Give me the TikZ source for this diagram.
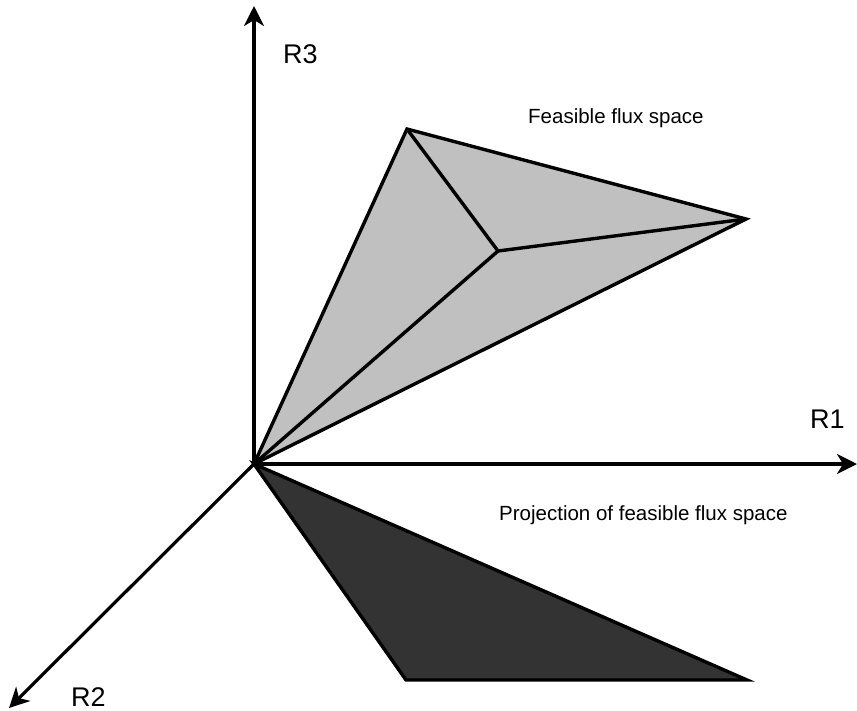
\documentclass[tikz,border=0pt]{standalone}
\usepackage{fontspec}
\setmainfont{Liberation Sans}
\usetikzlibrary{arrows.meta}
\definecolor{lightface}{HTML}{C0C0C0}
\definecolor{darkface}{HTML}{333333}
\begin{document}
\begin{tikzpicture}[x=1pt,y=-1pt,
  axis/.style={line width=3.2pt,-{Stealth[length=20pt,width=20pt,inset=6pt]}},
  edge/.style={line width=3.4pt,line join=miter},
  axislabel/.style={font=\fontsize{27}{30}\selectfont,inner sep=0pt,anchor=base west},
  smalllabel/.style={font=\fontsize{20.5}{24}\selectfont,inner sep=0pt,anchor=base west}]
\useasboundingbox (0,0) rectangle (857,710);
\coordinate (O) at (254,464);
\coordinate (top) at (407,129);
\coordinate (right) at (746,219);
\coordinate (mid) at (498,251);
\coordinate (pl) at (406,680);
\coordinate (pr) at (747,680);
\coordinate (x3) at (254,6);
\coordinate (x1) at (857,464);
\coordinate (x2) at (9,708);
\filldraw[edge,fill=lightface] (O) -- (top) -- (right) -- cycle;
\draw[edge] (top) -- (mid) -- (right);
\draw[edge] (O) -- (mid);
\filldraw[edge,fill=darkface] (O) -- (pr) -- (pl) -- cycle;
\draw[axis] (O) -- (x3);
\draw[axis] (O) -- (x1);
\draw[axis] (O) -- (x2);
\node[axislabel] (l3) at (283,63) {R3};
\node[axislabel] (l1) at (810,428) {R1};
\node[axislabel] (l2) at (71,706) {R2};
\node[smalllabel] (fs) at (528,123) {Feasible flux space};
\node[smalllabel] (pfs) at (499,520) {Projection of feasible flux space};
\end{tikzpicture}
\end{document}
